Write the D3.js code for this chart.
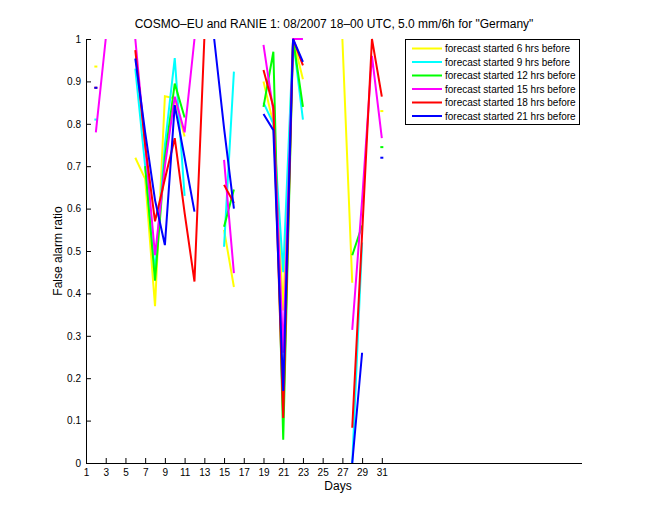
<!DOCTYPE html>
<html lang="en">
  <head>
    <meta charset="UTF-8" />
    <title>False alarm ratio</title>
    <script src="https://d3js.org/d3.v7.min.js"></script>
    <style>
      body { margin: 0; background: #fff; }
      text { font-family: "Liberation Sans", Arial, Helvetica, sans-serif; }
    </style>
  </head>
  <body>
    <script>
      const width = 660;
      const height = 520;

      // one value per day (1..31), null = no data
      const days = d3.range(1, 32);
      const fc6h = [null,0.935,null,null,null,0.72,0.67,0.37,0.865,0.86,0.77,null,null,null,0.55,0.415,null,null,0.90,0.80,0.36,1.0,0.905,null,null,null,1.0,0.425,null,null,0.83];
      const fc9h = [null,0.81,null,null,null,0.93,0.70,0.45,0.75,0.955,0.63,null,null,null,0.51,0.923,null,null,0.85,0.80,0.45,1.0,0.81,null,null,null,null,0.0,0.52,null,null];
      const fc12h = [null,null,null,null,null,null,0.70,0.43,0.72,0.895,0.815,null,null,null,0.557,0.645,null,null,0.84,0.97,0.055,1.0,0.84,null,null,null,null,0.49,0.56,null,0.745];
      const fc15h = [null,0.78,1.0,null,null,1.0,0.75,0.49,0.70,0.864,0.78,1.0,null,null,0.715,0.448,null,null,0.986,0.83,0.26,1.0,1.0,null,null,null,null,0.314,0.62,0.96,0.766];
      const fc18h = [null,0.885,null,null,null,0.974,0.75,0.57,0.67,0.766,0.59,0.428,1.0,null,0.656,0.613,null,null,0.927,0.84,0.106,1.0,0.938,null,null,null,null,0.083,0.54,1.0,0.864];
      const fc21h = [null,0.885,null,null,null,0.954,0.78,0.62,0.514,0.844,0.72,0.593,null,1.0,0.79,0.60,null,null,0.823,0.785,0.17,1.0,0.946,null,null,null,null,0.0,0.26,null,0.72];

      const seriesNames = ["forecast started 6 hrs before","forecast started 9 hrs before","forecast started 12 hrs before","forecast started 15 hrs before","forecast started 18 hrs before","forecast started 21 hrs before"];
      const seriesColors = ["#ffff00","#00ffff","#00ff00","#ff00ff","#ff0000","#0000ff"];
      const seriesValues = [fc6h, fc9h, fc12h, fc15h, fc18h, fc21h];

      const xTicks = d3.range(1, 32, 2);
      const yTicks = d3.range(0, 1.01, 0.1);

      const svg = d3.select("body").append("svg")
        .attr("width", width).attr("height", height);

      const x = d3.scaleLinear().domain([1, 51.3]).range([86, 582]);
      const y = d3.scaleLinear().domain([0, 1]).range([463, 39]);

      // lines
      const line = d3.line()
        .defined(d => d.v != null)
        .x(d => x(d.day))
        .y(d => y(d.v));

      const plot = svg.append("g");
      seriesValues.forEach((vals, k) => {
        const pts = days.map((d, i) => ({ day: d, v: vals[i] }));
        plot.append("path")
          .attr("d", line(pts))
          .attr("fill", "none")
          .attr("stroke", seriesColors[k])
          .attr("stroke-width", 2);
        // lone points show as little dots
        const lone = pts.filter((p, i) => p.v != null &&
          (i == 0 || pts[i - 1].v == null) && (i == pts.length - 1 || pts[i + 1].v == null));
        plot.selectAll(null).data(lone).join("rect")
          .attr("x", d => x(d.day) - 1.5)
          .attr("y", d => y(d.v) - 1)
          .attr("width", 3).attr("height", 2)
          .attr("fill", seriesColors[k]);
      });

      // axes
      const xAxis = d3.axisBottom(x).tickValues(xTicks).tickSize(-5).tickPadding(6)
        .tickFormat(d3.format("d"));
      const gx = svg.append("g").attr("transform", "translate(0,463)").call(xAxis);
      const yAxis = d3.axisLeft(y).tickValues(yTicks).tickSize(-5).tickPadding(5)
        .tickFormat(d => d == 0 ? "0" : d >= 1 ? "1" : d3.format(".1f")(d));
      const gy = svg.append("g").attr("transform", "translate(86,0)").call(yAxis);
      [gx, gy].forEach(g => {
        g.select(".domain").attr("stroke", "#000").attr("stroke-width", 1);
        g.selectAll(".tick line").attr("stroke", "#000");
        g.selectAll("text").attr("fill", "#000").style("font-size", "10px")
          .style("font-family", "'Liberation Sans', Arial, sans-serif");
      });
      gx.select(".domain").attr("d", "M86.5,0.5H582");
      gy.select(".domain").attr("d", "M0.5,463H0.5V39");

      // labels
      svg.append("text").attr("x", 334).attr("y", 28)
        .attr("text-anchor", "middle").style("font-size", "12px")
        .text("COSMO–EU and RANIE 1: 08/2007 18–00 UTC, 5.0 mm/6h for \"Germany\"");
      svg.append("text").attr("x", 338).attr("y", 490)
        .attr("text-anchor", "middle").style("font-size", "12px").text("Days");
      svg.append("text")
        .attr("transform", "translate(62,251) rotate(-90)")
        .attr("text-anchor", "middle").style("font-size", "12px").text("False alarm ratio");

      // legend
      const leg = svg.append("g");
      leg.append("rect").attr("x", 405.5).attr("y", 39.5).attr("width", 174).attr("height", 85)
        .attr("fill", "#fff").attr("stroke", "#000");
      seriesNames.forEach((name, k) => {
        const ly = 48.5 + k * 13.5;
        leg.append("line").attr("x1", 412).attr("x2", 442).attr("y1", ly).attr("y2", ly)
          .attr("stroke", seriesColors[k]).attr("stroke-width", 2);
        leg.append("text").attr("x", 445).attr("y", ly + 3.5)
          .style("font-size", "10px").text(name);
      });
    </script>
  </body>
</html>
